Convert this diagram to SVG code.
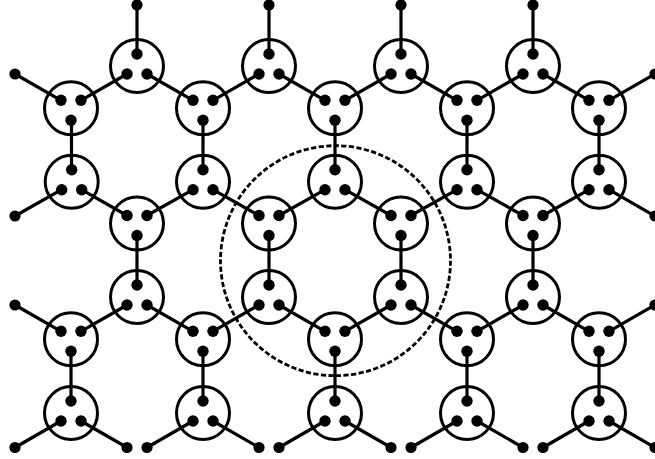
<svg xmlns="http://www.w3.org/2000/svg" width="655" height="459" viewBox="0 0 655 459">
<style>
.ring{fill:none;stroke:#000;stroke-width:3}
.dot{fill:#000}
.c line{stroke:#000;stroke-width:3.2;stroke-linecap:round}
.t{marker-end:url(#end)}
.halo{fill:none;stroke:#000;stroke-width:2.8;stroke-dasharray:5.2 2.4}
</style>
<defs>
<marker id="end" markerUnits="userSpaceOnUse" markerWidth="12" markerHeight="12" refX="6" refY="6" overflow="visible"><circle cx="6" cy="6" r="5.6" fill="#000"/></marker>
<g id="up"><circle class="ring" r="26.5"/><circle class="dot" cy="-12" r="5.7"/><circle class="dot" cx="-10" cy="8" r="5.7"/><circle class="dot" cx="10" cy="8" r="5.7"/></g>
<g id="down"><circle class="ring" r="26.5"/><circle class="dot" cy="12" r="5.7"/><circle class="dot" cx="-10" cy="-8" r="5.7"/><circle class="dot" cx="10" cy="-8" r="5.7"/></g>
</defs>
<rect width="655" height="459" fill="#fff"/>
<circle id="boundary" class="halo" cx="335.5" cy="260.7" r="115"/>
<g id="connectors" class="c">
<line class="t" x1="137" y1="54" x2="137" y2="5"/><line class="t" x1="269" y1="54" x2="269" y2="5"/><line class="t" x1="401" y1="54" x2="401" y2="5"/><line class="t" x1="533" y1="54" x2="533" y2="5"/>
<line x1="127" y1="74" x2="81" y2="100.3"/><line x1="147" y1="74" x2="193" y2="100.3"/>
<line x1="259" y1="74" x2="213" y2="100.3"/><line x1="279" y1="74" x2="325" y2="100.3"/>
<line x1="391" y1="74" x2="345" y2="100.3"/><line x1="411" y1="74" x2="457" y2="100.3"/>
<line x1="523" y1="74" x2="477" y2="100.3"/><line x1="543" y1="74" x2="589" y2="100.3"/>
<line class="t" x1="61" y1="100.3" x2="15" y2="74"/><line class="t" x1="609" y1="100.3" x2="655" y2="74"/>
<line x1="71.5" y1="120.3" x2="71.5" y2="169.7"/><line x1="203" y1="120.3" x2="203" y2="169.7"/><line x1="335" y1="120.3" x2="335" y2="169.7"/><line x1="467" y1="120.3" x2="467" y2="169.7"/><line x1="599" y1="120.3" x2="599" y2="169.7"/>
<line class="t" x1="61.5" y1="189.7" x2="15" y2="216"/><line class="t" x1="609" y1="189.7" x2="655" y2="216"/>
<line x1="127" y1="215.5" x2="81.5" y2="189.7"/><line x1="147" y1="215.5" x2="193" y2="189.7"/>
<line x1="259" y1="215.5" x2="213" y2="189.7"/><line x1="279" y1="215.5" x2="325" y2="189.7"/>
<line x1="391" y1="215.5" x2="345" y2="189.7"/><line x1="411" y1="215.5" x2="457" y2="189.7"/>
<line x1="523" y1="215.5" x2="477" y2="189.7"/><line x1="543" y1="215.5" x2="589" y2="189.7"/>
<line x1="137" y1="235.5" x2="137" y2="285"/><line x1="269" y1="235.5" x2="269" y2="285"/><line x1="401" y1="235.5" x2="401" y2="285"/><line x1="533" y1="235.5" x2="533" y2="285"/>
<line x1="127" y1="305" x2="81" y2="331.3"/><line x1="147" y1="305" x2="193" y2="331.3"/>
<line x1="259" y1="305" x2="213" y2="331.3"/><line x1="279" y1="305" x2="325" y2="331.3"/>
<line x1="391" y1="305" x2="345" y2="331.3"/><line x1="411" y1="305" x2="457" y2="331.3"/>
<line x1="523" y1="305" x2="477" y2="331.3"/><line x1="543" y1="305" x2="589" y2="331.3"/>
<line class="t" x1="61" y1="331.3" x2="15" y2="305"/><line class="t" x1="609" y1="331.3" x2="655" y2="305"/>
<line x1="71" y1="351.3" x2="71" y2="401"/><line x1="203" y1="351.3" x2="203" y2="401"/><line x1="335" y1="351.3" x2="335" y2="401"/><line x1="467" y1="351.3" x2="467" y2="401"/><line x1="599" y1="351.3" x2="599" y2="401"/>
<line class="t" x1="61" y1="421" x2="15" y2="447.5"/><line class="t" x1="81" y1="421" x2="127" y2="447.5"/>
<line class="t" x1="193" y1="421" x2="147" y2="447.5"/><line class="t" x1="213" y1="421" x2="259" y2="447.5"/>
<line class="t" x1="325" y1="421" x2="279" y2="447.5"/><line class="t" x1="345" y1="421" x2="391" y2="447.5"/>
<line class="t" x1="457" y1="421" x2="411" y2="447.5"/><line class="t" x1="477" y1="421" x2="523" y2="447.5"/>
<line class="t" x1="589" y1="421" x2="543" y2="447.5"/><line class="t" x1="609" y1="421" x2="655" y2="447.5"/>
</g>
<g id="nodes">
<g id="a1" transform="translate(137 66)"><use href="#up"/></g>
<g id="a2" transform="translate(269 66)"><use href="#up"/></g>
<g id="a3" transform="translate(401 66)"><use href="#up"/></g>
<g id="a4" transform="translate(533 66)"><use href="#up"/></g>
<g id="b1" transform="translate(71 108.3)"><use href="#down"/></g>
<g id="b2" transform="translate(203 108.3)"><use href="#down"/></g>
<g id="b3" transform="translate(335 108.3)"><use href="#down"/></g>
<g id="b4" transform="translate(467 108.3)"><use href="#down"/></g>
<g id="b5" transform="translate(599 108.3)"><use href="#down"/></g>
<g id="c1" transform="translate(71.7 181.7)"><use href="#up"/></g>
<g id="c2" transform="translate(203 181.7)"><use href="#up"/></g>
<g id="c3" transform="translate(335 181.7)"><use href="#up"/></g>
<g id="c4" transform="translate(467 181.7)"><use href="#up"/></g>
<g id="c5" transform="translate(599 181.7)"><use href="#up"/></g>
<g id="d1" transform="translate(137 223.5)"><use href="#down"/></g>
<g id="d2" transform="translate(269 223.5)"><use href="#down"/></g>
<g id="d3" transform="translate(401 223.5)"><use href="#down"/></g>
<g id="d4" transform="translate(533 223.5)"><use href="#down"/></g>
<g id="e1" transform="translate(137 297)"><use href="#up"/></g>
<g id="e2" transform="translate(269 297)"><use href="#up"/></g>
<g id="e3" transform="translate(401 297)"><use href="#up"/></g>
<g id="e4" transform="translate(533 297)"><use href="#up"/></g>
<g id="f1" transform="translate(71 339.3)"><use href="#down"/></g>
<g id="f2" transform="translate(203 339.3)"><use href="#down"/></g>
<g id="f3" transform="translate(335 339.3)"><use href="#down"/></g>
<g id="f4" transform="translate(467 339.3)"><use href="#down"/></g>
<g id="f5" transform="translate(599 339.3)"><use href="#down"/></g>
<g id="g1" transform="translate(71 413)"><use href="#up"/></g>
<g id="g2" transform="translate(203 413)"><use href="#up"/></g>
<g id="g3" transform="translate(335 413)"><use href="#up"/></g>
<g id="g4" transform="translate(467 413)"><use href="#up"/></g>
<g id="g5" transform="translate(599 413)"><use href="#up"/></g>
</g>
</svg>
